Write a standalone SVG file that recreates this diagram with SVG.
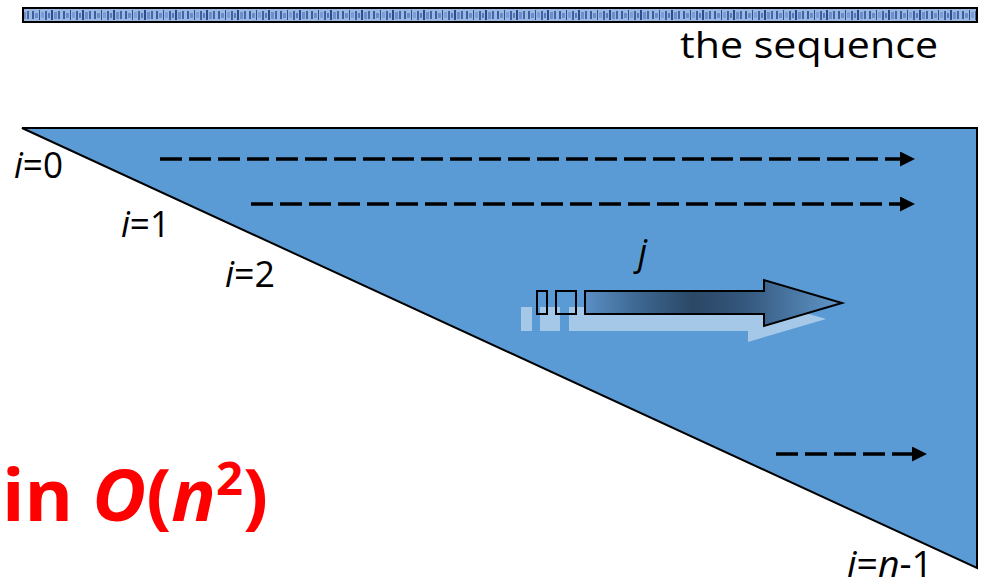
<svg xmlns="http://www.w3.org/2000/svg" width="982" height="583" viewBox="0 0 982 583">
<style>
.lbl{font-family:"Open Sans","Noto Sans","Liberation Sans",sans-serif;font-size:36px;fill:#000}
.it{font-style:italic}
.dash{stroke:#000;stroke-width:3.5;stroke-dasharray:22 7;fill:none}
.big{font-family:"Open Sans","Noto Sans","Liberation Sans",sans-serif;font-weight:bold;font-size:72px;fill:#ff0000}
</style>
<defs>
<marker id="ah" markerUnits="userSpaceOnUse" markerWidth="16" markerHeight="16" refX="0" refY="7.5" orient="auto">
<path d="M0,0 L15,7.5 L0,15 z" fill="#000"/>
</marker>
<linearGradient id="gj" x1="0" y1="0" x2="1" y2="0">
<stop offset="0" stop-color="#5b8fc5"/>
<stop offset="0.2" stop-color="#3e6893"/>
<stop offset="0.42" stop-color="#2b4866"/>
<stop offset="0.62" stop-color="#34577d"/>
<stop offset="1" stop-color="#6198cb"/>
</linearGradient>
<pattern id="seq" x="0" y="9" width="31" height="12" patternUnits="userSpaceOnUse">
<rect width="31" height="12" fill="#9bb8e2"/>
<rect x="1" y="2" width="2" height="8" fill="#3a5f9e"/>
<rect x="4" y="4" width="3" height="5" fill="#6a8cc9"/>
<rect x="8" y="1" width="1" height="10" fill="#2f508f"/>
<rect x="10" y="3" width="3" height="6" fill="#7c9dd6"/>
<rect x="14" y="2" width="2" height="9" fill="#3d62a3"/>
<rect x="17" y="4" width="2" height="5" fill="#5677b8"/>
<rect x="20" y="1" width="2" height="10" fill="#2c4d8c"/>
<rect x="23" y="3" width="3" height="7" fill="#6d90cc"/>
<rect x="27" y="2" width="2" height="8" fill="#4465a6"/>
</pattern>
</defs>

<g id="sequence">
<rect x="23" y="8" width="954" height="14" fill="url(#seq)" stroke="#000" stroke-width="2"/>
<text class="lbl" x="680" y="58" font-size="35" textLength="258" lengthAdjust="spacingAndGlyphs">the sequence</text>
</g>

<g id="matrix">
<polygon points="22,128 977,128 977,568" fill="#5b9bd5" stroke="#000" stroke-width="2" stroke-linejoin="miter"/>
</g>

<g id="labels">
<text class="lbl" x="14" y="178" textLength="49" lengthAdjust="spacingAndGlyphs"><tspan class="it">i</tspan>=0</text>
<text class="lbl" x="121" y="237" textLength="49" lengthAdjust="spacingAndGlyphs"><tspan class="it">i</tspan>=1</text>
<text class="lbl" x="225" y="287" textLength="50" lengthAdjust="spacingAndGlyphs"><tspan class="it">i</tspan>=2</text>
<text class="lbl" x="847" y="577" font-size="34" textLength="86" lengthAdjust="spacingAndGlyphs"><tspan class="it">i</tspan>=<tspan class="it">n</tspan>-1</text>
</g>

<g id="connectors">
<line class="dash" x1="160" y1="159" x2="900" y2="159" marker-end="url(#ah)"/>
<line class="dash" x1="251" y1="204" x2="900" y2="204" marker-end="url(#ah)"/>
<line class="dash" x1="776" y1="454" x2="912" y2="454" marker-end="url(#ah)"/>
</g>

<g id="j-arrow">
<g fill="#ffffff" fill-opacity="0.45">
<rect x="521" y="307" width="11" height="24"/>
<rect x="540" y="307" width="20" height="24"/>
<path d="M569,307 L748,307 L748,296 L826,319 L748,342 L748,331 L569,331 z"/>
</g>
<rect x="537" y="291" width="10" height="23" fill="none" stroke="#000" stroke-width="2"/>
<rect x="556" y="291" width="20" height="23" fill="none" stroke="#000" stroke-width="2"/>
<path d="M585,291 L764,291 L764,280 L842,303 L764,326 L764,314 L585,314 z" fill="url(#gj)" stroke="#000" stroke-width="2" stroke-linejoin="miter"/>
<text class="lbl it" x="638" y="265" font-size="38">j</text>
</g>

<g id="complexity">
<text class="big" x="2" y="521" textLength="266" lengthAdjust="spacingAndGlyphs">in <tspan font-style="italic">O</tspan>(<tspan font-style="italic">n</tspan><tspan font-size="46" dy="-26">2</tspan><tspan dy="26">)</tspan></text>
</g>
</svg>
